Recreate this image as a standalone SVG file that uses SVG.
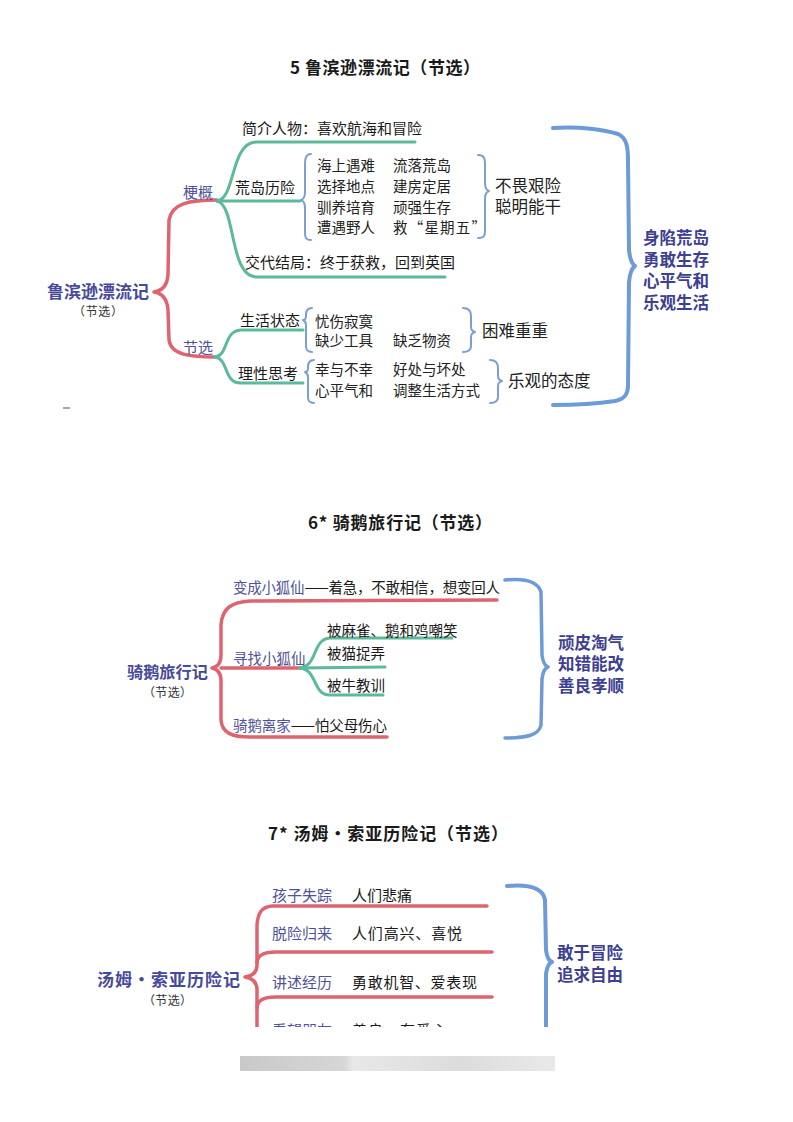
<svg xmlns="http://www.w3.org/2000/svg" width="793" height="1122" viewBox="0 0 793 1122">
<style>
text{font-family:"Noto Sans CJK SC","Liberation Sans",sans-serif;fill:#1a1a1a}
.title{font-size:17px;font-weight:bold}
.root{font-weight:bold;fill:#474a9a}
.sub{font-size:12px;fill:#333}
.pur{fill:#4f5299}
.t15{font-size:15px}
.t14{font-size:14.5px}
.kai{font-size:14.5px;fill:#222}
.big{font-size:16.5px;fill:#222}
.lab{font-weight:bold;fill:#3d4091;font-size:16.5px}
.red{fill:none;stroke:#de6470;stroke-width:3.5;stroke-linecap:round;stroke-linejoin:round}
.grn{fill:none;stroke:#5db99b;stroke-width:3;stroke-linecap:round;stroke-linejoin:round}
.blu{fill:none;stroke:#6c9bd8;stroke-width:4;stroke-linecap:round;stroke-linejoin:round}
.sbl{fill:none;stroke:#7d9fcf;stroke-width:2;stroke-linecap:round;stroke-linejoin:round}
</style>
<defs>
<clipPath id="cut3"><rect x="0" y="860" width="793" height="167"/></clipPath>
<linearGradient id="blur" x1="0" y1="0" x2="1" y2="0">
<stop offset="0" stop-color="#c9c9c9"/>
<stop offset="0.33" stop-color="#d6d6d6"/>
<stop offset="0.36" stop-color="#e8e8e8"/>
<stop offset="0.7" stop-color="#dcdcdc"/>
<stop offset="1" stop-color="#e9e9e9"/>
</linearGradient>
</defs>
<rect width="793" height="1122" fill="#ffffff"/>

<!-- ===== Section 5 ===== -->
<text class="title" x="290" y="74" textLength="190" lengthAdjust="spacing">5 鲁滨逊漂流记（节选）</text>

<g id="connectors1">
<path class="red" d="M217,200 C190,200 172,203 169,220 L168,275 C167,287 161,291 154,292 C161,293 167,297 168,310 L169,340 C171,355 190,357 216,357"/>
<path class="grn" d="M217,201 C236,198 230,143 256,142 L415,142"/>
<path class="grn" d="M217,201 L300,201"/>
<path class="grn" d="M217,201 C236,205 229,276 256,277 L445,277"/>
<path class="grn" d="M215,357 C229,355 223,331 241,330 L303,330"/>
<path class="grn" d="M215,357 C229,359 223,383 241,383 L303,383"/>
<path class="sbl" d="M311,154 C306,154 305,158 305,165 L305,192 C305,197 304,199 301,200 C304,201 305,203 305,208 L305,232 C305,238 306,240 311,240"/>
<path class="sbl" d="M478,155 C484,155 485,158 485,165 L485,183 C485,188 486,190 489,191 C486,192 485,194 485,199 L485,231 C485,236 484,238 478,238"/>
<path class="sbl" d="M312,308 C307,308 306,311 306,315 L306,316 C306,319 305,320 303,320 C305,321 306,322 306,325 L306,346 C306,350 307,352 312,352"/>
<path class="sbl" d="M463,308 C469,308 471,311 471,316 L471,326 C471,330 472,331 475,332 C472,333 471,334 471,338 L471,346 C471,350 469,352 463,352"/>
<path class="sbl" d="M314,360 C309,360 308,363 308,367 L308,368 C308,371 307,372 305,372 C307,373 308,374 308,377 L308,397 C308,401 309,403 314,403"/>
<path class="sbl" d="M490,360 C496,360 498,363 498,368 L498,375 C498,379 499,380 502,381 C499,382 498,383 498,387 L498,397 C498,401 496,403 490,403"/>
<path class="blu" d="M553,128 C580,126 605,130 618,134 C627,138 628,148 628,160 L629,250 C630,260 632,264 635,266 C632,268 630,272 629,282 L628,385 C628,395 624,399 615,401 C595,404 575,405 553,405"/>
<path d="M63,408 L70,408" stroke="#888" stroke-width="1.5"/>
</g>

<g id="root1">
<text class="root" x="47" y="297.5" font-size="17">鲁滨逊漂流记</text>
<text class="sub" x="73" y="316" textLength="50" lengthAdjust="spacing">（节选）</text>
</g>
<g id="n-gengai"><text class="pur t15" x="183" y="197.5">梗概</text></g>
<g id="n-jiexuan1"><text class="pur t15" x="183" y="352.5">节选</text></g>
<g id="n-jianjie"><text class="t15" x="242" y="133.5">简介人物：喜欢航海和冒险</text></g>
<g id="n-huangdao"><text class="t15" x="235" y="193">荒岛历险</text></g>
<g id="n-jiaodai"><text class="t15" x="245" y="268">交代结局：终于获救，回到英国</text></g>
<g id="n-shenghuo"><text class="t15" x="240" y="326">生活状态</text></g>
<g id="n-lixing"><text class="t15" x="238" y="379">理性思考</text></g>
<g id="n-huangdao-items">
<text class="kai" x="317" y="170.5">海上遇难</text><text class="kai" x="393" y="170.5">流落荒岛</text>
<text class="kai" x="317" y="192">选择地点</text><text class="kai" x="393" y="192">建房定居</text>
<text class="kai" x="317" y="212.5">驯养培育</text><text class="kai" x="393" y="212.5">顽强生存</text>
<text class="kai" x="317" y="233">遭遇野人</text><text class="kai" x="393" y="233" textLength="93" lengthAdjust="spacing">救“星期五”</text>
</g>
<g id="n-buwei">
<text class="big" x="495" y="192" font-size="16">不畏艰险</text>
<text class="big" x="495" y="213" font-size="16">聪明能干</text>
</g>
<g id="n-shenghuo-items">
<text class="kai" x="315" y="327">忧伤寂寞</text>
<text class="kai" x="315" y="346">缺少工具</text><text class="kai" x="393" y="346">缺乏物资</text>
</g>
<g id="n-kunnan"><text class="big" x="482" y="336.5">困难重重</text></g>
<g id="n-lixing-items">
<text class="kai" x="315" y="375">幸与不幸</text><text class="kai" x="393" y="375">好处与坏处</text>
<text class="kai" x="315" y="396">心平气和</text><text class="kai" x="393" y="396">调整生活方式</text>
</g>
<g id="n-leguan"><text class="big" x="508" y="386.5">乐观的态度</text></g>
<g id="n-summary1">
<text class="lab" x="643" y="244">身陷荒岛</text>
<text class="lab" x="643" y="265.5">勇敢生存</text>
<text class="lab" x="643" y="287">心平气和</text>
<text class="lab" x="643" y="308.5">乐观生活</text>
</g>

<!-- ===== Section 6 ===== -->
<text class="title" x="308" y="528.5" textLength="184" lengthAdjust="spacing">6* 骑鹅旅行记（节选）</text>

<g id="connectors2">
<path class="red" d="M497,600 L250,601 C232,602 222,608 221,625 L221,655 C221,663 217,667 212,668 C217,669 221,673 221,681 L221,720 C222,733 232,737 250,737 L387,737"/>
<path class="red" d="M221,668 L302,668"/>
<path class="grn" d="M300,668 C318,666 312,639 330,638 L452,638"/>
<path class="grn" d="M300,668 L385,667"/>
<path class="grn" d="M300,668 C318,670 312,695 330,695 L383,695"/>
<path class="blu" style="stroke-width:3.5" d="M505,580 C525,578 538,582 541,592 L542,655 C543,663 545,666 548,667 C545,668 543,671 542,679 L541,725 C539,735 527,738 505,738"/>
</g>

<g id="root2">
<text class="root" x="127" y="678" font-size="16.2">骑鹅旅行记</text>
<text class="sub" x="143" y="697" textLength="49" lengthAdjust="spacing">（节选）</text>
</g>
<g id="n-bian"><text class="t14" x="233" y="592.5" textLength="267" lengthAdjust="spacing"><tspan class="pur">变成小狐仙</tspan>——着急，不敢相信，想变回人</text></g>
<g id="n-xunzhao"><text class="pur t14" x="233" y="663.5">寻找小狐仙</text></g>
<g id="n-bei1"><text class="t14" x="327" y="635.5">被麻雀、鹅和鸡嘲笑</text></g>
<g id="n-bei2"><text class="t14" x="327" y="658.5">被猫捉弄</text></g>
<g id="n-bei3"><text class="t14" x="327" y="690.5">被牛教训</text></g>
<g id="n-qie"><text class="t14" x="233" y="730.5" textLength="154" lengthAdjust="spacing"><tspan class="pur">骑鹅离家</tspan>——怕父母伤心</text></g>
<g id="n-summary2">
<text class="lab" x="558" y="648.5" font-size="15.8">顽皮淘气</text>
<text class="lab" x="558" y="670" font-size="15.8">知错能改</text>
<text class="lab" x="558" y="691.5" font-size="15.8">善良孝顺</text>
</g>

<!-- ===== Section 7 ===== -->
<text class="title" x="268" y="839.5" textLength="240" lengthAdjust="spacing">7* 汤姆·索亚历险记（节选）</text>

<g clip-path="url(#cut3)">
<g id="connectors3">
<path class="red" d="M487,906 L272,906 C262,907 258,912 257,925 L257,965 C257,973 252,976 245,977 C252,978 257,981 257,990 L257,1040"/>
<path class="red" d="M257,963 C257,956 262,952 276,952 L492,952"/>
<path class="red" d="M257,1008 C257,1001 262,997 276,997 L492,997"/>
<path class="blu" d="M507,886 C530,884 543,888 545,900 L546,950 C547,958 549,961 552,962 C549,963 547,966 546,974 L546,1040"/>
</g>
<g id="root3">
<text class="root" x="97" y="985.5" font-size="17" textLength="143" lengthAdjust="spacing">汤姆·索亚历险记</text>
<text class="sub" x="143" y="1004.5" textLength="49" lengthAdjust="spacing">（节选）</text>
</g>
<g id="n-haizi"><text class="pur t15" x="272" y="901" font-size="15.5">孩子失踪</text><text class="t15" x="352" y="901" font-size="15.5">人们悲痛</text></g>
<g id="n-tuoxian"><text class="pur t15" x="272" y="939" font-size="15.5">脱险归来</text><text class="t15" x="352" y="939" font-size="15.5" textLength="110" lengthAdjust="spacing">人们高兴、喜悦</text></g>
<g id="n-jiangshu"><text class="pur t15" x="272" y="988" font-size="15.5">讲述经历</text><text class="t15" x="352" y="988" font-size="15.5" textLength="125" lengthAdjust="spacing">勇敢机智、爱表现</text></g>
<g id="n-kanwang"><text class="pur t15" x="272" y="1036" font-size="15.5">看望朋友</text><text class="t15" x="352" y="1036" font-size="15.5" textLength="95" lengthAdjust="spacing">善良、有爱心</text></g>
<g id="n-summary3">
<text class="lab" x="557" y="959">敢于冒险</text>
<text class="lab" x="557" y="981">追求自由</text>
</g>
</g>

<rect x="240" y="1056" width="315" height="15" fill="url(#blur)"/>
</svg>
